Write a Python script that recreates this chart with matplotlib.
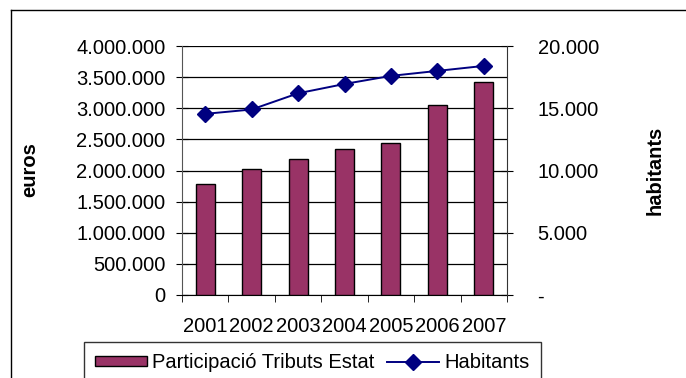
import matplotlib
matplotlib.use("Agg")
from matplotlib import pyplot as plt
from matplotlib.lines import Line2D
from matplotlib.ticker import FuncFormatter
import numpy as np

plt.rcParams['font.family'] = ['Liberation Sans', 'DejaVu Sans']

years = ['2001', '2002', '2003', '2004', '2005', '2006', '2007']
tributs = [1780000, 2025000, 2180000, 2345000, 2440000, 3055000, 3415000]
habitants = [14550, 14900, 16200, 16950, 17600, 18000, 18400]

bar_color = '#993366'
line_color = '#000080'
fs = 14.5

def dots(v, pos):
    return '{:,.0f}'.format(v).replace(',', '.')

def dots_dash(v, pos):
    if v == 0:
        return '-'
    return dots(v, pos)

fig = plt.figure(figsize=(6.86, 3.78), dpi=100)
ax = fig.add_axes([182/686, 1-295/378, (507-182)/686, (295-46)/378])
x = np.arange(len(years))
bars = ax.bar(x, tributs, width=0.41, color=bar_color, edgecolor='black',
              linewidth=1, zorder=3, label='Participació Tributs Estat')
ax.set_xlim(-0.5, len(years) - 0.5)
ax.set_ylim(0, 4000000)
ax.set_yticks(np.arange(0, 4000001, 500000))
ax.yaxis.set_major_formatter(FuncFormatter(dots))
ax.yaxis.grid(True, color='black', linewidth=0.9, zorder=0)
ax.set_axisbelow(True)

ax.set_xticks(x)
ax.set_xticklabels(years, fontsize=fs)
ax.set_xticks(np.arange(-0.5, len(years)), minor=True)
ax.tick_params(axis='x', which='major', length=0, pad=16)
ax.tick_params(axis='x', which='minor', length=5, direction='out', color='black')
ax.tick_params(axis='y', direction='inout', length=8, pad=8, labelsize=fs)

for s in ['top', 'right']:
    ax.spines[s].set_visible(False)
ax.spines['left'].set_color('#555555')
ax.spines['bottom'].set_color('black')

ax2 = ax.twinx()
line, = ax2.plot(x, habitants, color=line_color, marker='D', markersize=8,
                 linewidth=1.4, zorder=4, label='Habitants')
ax2.set_ylim(0, 20000)
ax2.set_yticks(np.arange(0, 20001, 5000))
ax2.yaxis.set_major_formatter(FuncFormatter(dots_dash))
ax2.tick_params(axis='y', direction='inout', length=8, pad=18, labelsize=fs)
for s in ['top', 'left', 'bottom']:
    ax2.spines[s].set_visible(False)
ax2.spines['right'].set_color('#333333')

fig.text(30/686, 1-170/378, 'euros', rotation=90, fontsize=fs, fontweight='bold',
         ha='center', va='center')
fig.text(655/686, 1-170/378, 'habitants', rotation=90, fontsize=fs, fontweight='bold',
         ha='center', va='center')

leg = fig.legend([bars, line], ['Participació Tributs Estat', 'Habitants'],
                 loc='upper left', bbox_to_anchor=(84/686, 1-342/378), ncol=2,
                 fontsize=fs, frameon=True, fancybox=False, handlelength=2.6,
                 handleheight=0.4, columnspacing=0.6, handletextpad=0.25,
                 borderpad=0.55, borderaxespad=0)
leg.get_frame().set_edgecolor('black')
leg.get_frame().set_linewidth(1)

# outer border of the chart area
fig.add_artist(Line2D([11/686, 1], [1-10/378, 1-10/378], color='black', linewidth=1,
                      transform=fig.transFigure))
fig.add_artist(Line2D([11/686, 11/686], [0, 1-10/378], color='black', linewidth=1,
                      transform=fig.transFigure))

fig.savefig('out.png', dpi=100)
